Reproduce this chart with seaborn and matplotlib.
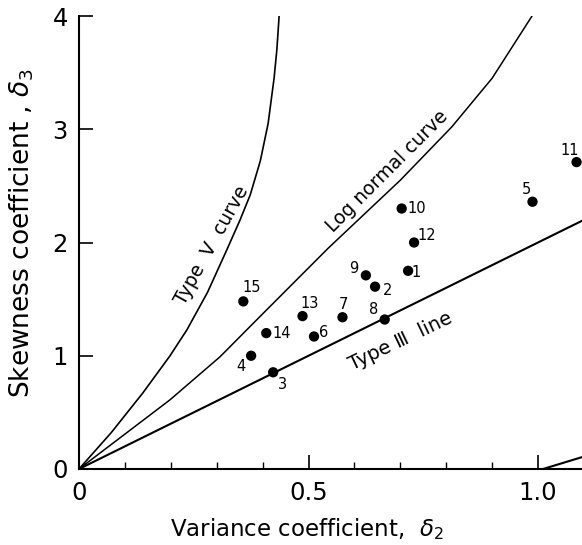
import numpy as np
import pandas as pd
import matplotlib
matplotlib.use("Agg")
import matplotlib.pyplot as plt
import seaborn as sns

# ---- data ----
station_ids = ["1", "2", "3", "4", "5", "6", "7", "8", "9", "10", "11", "12", "13", "14", "15"]
variance_coef = [0.717, 0.645, 0.423, 0.375, 0.988, 0.512, 0.574, 0.666, 0.625, 0.703, 1.084, 0.730, 0.487, 0.408, 0.358]
skewness_coef = [1.75, 1.61, 0.854, 1.00, 2.36, 1.17, 1.34, 1.32, 1.71, 2.30, 2.71, 2.00, 1.35, 1.20, 1.48]
# label offsets (points) for each station number
label_dx = [6, 9, 7, -7, -4, 7, 1, -8, -9, 11, -5, 9, 5, 11, 6]
label_dy = [-1, -3, -9, -8, 9, 3, 9, 7, 5, 0, 8, 5, 9, 0, 10]

typeV_x = [0.0, 0.07, 0.139, 0.198, 0.235, 0.28, 0.322, 0.351, 0.373, 0.395, 0.412, 0.425, 0.431, 0.436]
typeV_y = [0.0, 0.32, 0.671, 0.998, 1.228, 1.56, 1.935, 2.20, 2.42, 2.72, 3.05, 3.45, 3.70, 4.00]

lognormal_x = [0.0, 0.198, 0.307, 0.394, 0.543, 0.70, 0.812, 0.90, 0.987]
lognormal_y = [0.0, 0.61, 0.99, 1.345, 1.95, 2.55, 3.02, 3.45, 4.00]

typeIII_x = [0.0, 1.1]
typeIII_y = [0.0, 2.2]

extra_x = [1.011, 1.1]
extra_y = [0.0, 0.11]

x_ticks = [0, 0.5, 1.0]
x_ticklabels = ["0", "0.5", "1.0"]
y_ticks = [0, 1, 2, 3, 4]
y_ticklabels = ["0", "1", "2", "3", "4"]

# ---- plotting ----
sns.set_theme(style="ticks")
plt.rcParams["font.family"] = ["DejaVu Sans"]
plt.rcParams["mathtext.fontset"] = "dejavusans"
plt.rcParams["text.color"] = "black"
plt.rcParams["axes.labelcolor"] = "black"
plt.rcParams["xtick.color"] = "black"
plt.rcParams["ytick.color"] = "black"
plt.rcParams["xtick.labelcolor"] = "black"
plt.rcParams["ytick.labelcolor"] = "black"

fig = plt.figure(figsize=(5.82, 5.45), dpi=100)
ax = fig.add_axes([79 / 582, 76 / 545, 503 / 582, 453 / 545])

def curve(xs, ys, lw):
    df = pd.DataFrame({"x": xs, "y": ys})
    sns.lineplot(data=df, x="x", y="y", ax=ax, color="black", linewidth=lw,
                 sort=False, estimator=None)

curve(typeV_x, typeV_y, 1.2)
curve(lognormal_x, lognormal_y, 1.1)
curve(typeIII_x, typeIII_y, 1.5)
curve(extra_x, extra_y, 1.5)

pts = pd.DataFrame({"x": variance_coef, "y": skewness_coef, "id": station_ids})
sns.scatterplot(data=pts, x="x", y="y", ax=ax, color="black", s=55,
                edgecolor="none", zorder=5, clip_on=False)
for i, r in pts.iterrows():
    ax.annotate(r["id"], (r["x"], r["y"]), xytext=(label_dx[i], label_dy[i]),
                textcoords="offset points", ha="center", va="center",
                fontsize=10.5, color="black")

ax.text(0.289, 1.973, "Type  V  curve", rotation=61, rotation_mode="anchor",
        ha="center", va="center", fontsize=13.5, color="black")
ax.text(0.672, 2.626, "Log normal curve", rotation=45, rotation_mode="anchor",
        ha="center", va="center", fontsize=13.5, color="black")
ax.text(0.701, 1.124, "Type \u2162  line", rotation=25.5, rotation_mode="anchor",
        ha="center", va="center", fontsize=14, color="black")

ax.set_xlim(0, 503 / 459)
ax.set_ylim(0, 4.0)
ax.set_xticks(x_ticks)
ax.set_xticklabels(x_ticklabels)
ax.set_xticks(np.arange(0.1, 1.05, 0.1), minor=True)
ax.set_yticks(y_ticks)
ax.set_yticklabels(y_ticklabels)

ax.tick_params(axis="both", which="major", direction="in", length=10, width=1.2,
               labelsize=17.5, color="black", labelcolor="black")
ax.tick_params(axis="x", which="major", pad=9)
ax.tick_params(axis="y", which="major", pad=8)
ax.tick_params(axis="x", which="minor", direction="in", length=5, width=1.0, color="black")

for s in ["top", "right"]:
    ax.spines[s].set_visible(False)
for s in ["left", "bottom"]:
    ax.spines[s].set_linewidth(1.5)
    ax.spines[s].set_color("black")

ax.set_xlabel(r"Variance coefficient,  $\delta_2$", fontsize=16.5, color="black")
ax.set_ylabel(r"Skewness coefficient , $\delta_3$", fontsize=19, color="black")
ax.xaxis.set_label_coords(0.453, -0.104)
ax.yaxis.set_label_coords(-0.085, 0.521)

fig.savefig("out.png", dpi=100)
